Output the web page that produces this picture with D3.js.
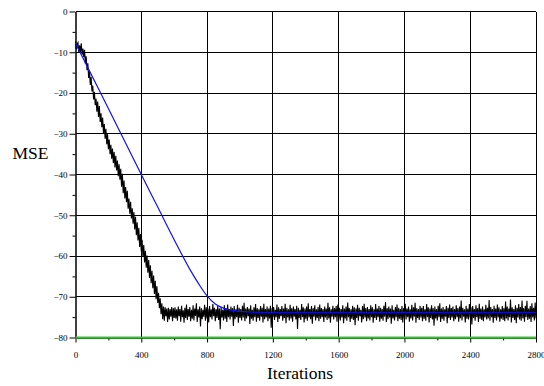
<!DOCTYPE html>
<html>
<head>
<meta charset="utf-8">
<script src="https://cdn.jsdelivr.net/npm/d3@7"></script>
<style>
body { margin: 0; background: #fff; }
text { font-family: 'Liberation Serif', 'Times New Roman', serif; fill: #000; }
</style>
</head>
<body>
<svg id="chart"></svg>
<script>
// Curvas de aprendizado: MSE (dB) x iterações

const xTicks = [0, 400, 800, 1200, 1600, 2000, 2400, 2800];
const xMinor = [200, 600, 1000, 1400, 1800, 2200, 2600];
const yTicks = [0, -10, -20, -30, -40, -50, -60, -70, -80];
const yMinor = [-5, -15, -25, -35, -45, -55, -65, -75];

// curva ruidosa (preta), uma amostra a cada 5 iterações
const noisyStep = 5;
const noisyValues = [
    -7.4, -9.3, -8.0, -7.6, -10.1, -8.3, -9.9, -7.8, -10.6, -9.1, -11.2, -9.4, -12.8, -11.0, -14.4, -12.7, -16.3, -14.6, -18.0, -16.1, -19.6,
    -18.2, -21.6, -19.7, -23.0, -21.4, -24.6, -22.1, -25.9, -23.2, -27.1, -25.0, -28.4, -26.0, -29.9, -27.6, -31.2, -28.8, -32.6, -30.1, -33.8,
    -31.4, -35.0, -32.7, -36.1, -33.6, -37.2, -34.5, -38.3, -35.4, -39.0, -36.6, -40.4, -37.5, -41.3, -38.6, -43.0, -39.8, -44.6, -41.5, -45.9,
    -43.1, -46.8, -44.0, -48.4, -45.9, -49.6, -46.7, -50.8, -48.3, -52.1, -49.2, -53.5, -50.4, -54.9, -51.7, -56.2, -53.1, -57.8, -54.6, -58.9,
    -56.0, -60.2, -57.3, -61.6, -58.7, -62.9, -59.9, -64.1, -61.0, -65.4, -62.3, -66.7, -63.6, -67.9, -64.8, -69.3, -66.1, -70.6, -67.4, -71.5,
    -69.0, -72.8, -70.4, -74.3, -71.6, -75.5, -72.4, -75.9, -72.6, -74.8, -72.9, -76.2, -72.7, -75.6, -73.0, -74.9, -72.5, -76.0, -72.8, -75.2,
    -72.6, -75.3, -73.1, -75.9, -72.4, -74.8, -73.0, -76.1, -72.2, -75.0, -73.3, -76.4, -72.7, -75.2, -71.9, -75.7, -73.0, -74.9, -72.5, -76.0,
    -73.2, -75.4, -72.1, -75.8, -72.9, -74.7, -71.6, -76.2, -73.1, -75.1, -72.4, -77.3, -72.8, -75.5, -73.2, -74.9, -72.0, -75.9, -72.6, -75.3,
    -72.9, -76.3, -72.3, -75.0, -73.1, -75.6, -71.8, -74.8, -72.7, -76.0, -73.0, -75.2, -72.2, -75.7, -72.9, -78.0, -72.5, -75.1, -73.2, -75.8,
    -72.1, -75.4, -72.8, -76.2, -71.9, -75.0, -73.0, -75.6, -72.4, -74.9, -72.8, -77.2, -72.3, -75.5, -73.1, -75.0, -72.0, -76.4, -72.7, -75.2,
    -73.0, -75.8, -72.2, -75.1, -71.5, -76.0, -72.9, -75.3, -72.5, -74.8, -72.9, -76.7, -72.1, -75.4, -73.2, -75.9, -72.6, -75.0, -71.8, -76.1,
    -72.8, -75.2, -73.1, -75.9, -72.3, -74.9, -72.7, -76.3, -71.7, -75.5, -73.0, -75.1, -72.4, -76.0, -72.9, -75.3, -72.2, -77.6, -72.8, -75.0,
    -72.5, -75.7, -73.2, -75.0, -71.9, -76.2, -72.6, -75.4, -73.0, -74.8, -72.3, -75.9, -72.9, -75.2, -71.7, -76.5, -72.7, -75.1, -73.1, -75.8,
    -72.0, -75.3, -72.8, -76.1, -72.4, -74.9, -73.0, -75.6, -72.2, -77.9, -72.7, -75.2, -73.2, -75.7, -71.8, -75.0, -72.6, -76.3, -72.9, -75.4,
    -72.4, -75.9, -71.6, -75.1, -73.0, -75.5, -72.3, -76.6, -72.8, -74.9, -72.1, -75.8, -73.1, -75.2, -72.5, -76.0, -71.9, -75.4, -72.8, -75.0,
    -73.0, -76.2, -72.4, -75.1, -72.9, -75.7, -71.5, -75.3, -72.6, -76.4, -73.1, -74.9, -72.2, -75.6, -72.8, -75.0, -72.3, -76.1, -71.9, -75.4,
    -72.7, -75.8, -73.0, -75.1, -72.1, -76.5, -72.9, -75.3, -72.4, -75.9, -71.4, -75.0, -72.8, -76.2, -73.1, -75.4, -72.2, -75.7, -72.6, -77.0,
    -72.9, -75.2, -72.0, -75.9, -72.7, -74.8, -73.2, -76.3, -72.3, -75.5, -71.7, -75.1, -72.8, -76.0, -72.5, -75.3, -73.0, -75.8, -72.1, -75.0,
    -72.6, -76.4, -73.1, -75.2, -71.8, -75.7, -72.9, -75.0, -72.3, -76.1, -72.7, -75.4, -73.0, -75.9, -72.2, -74.9, -71.3, -76.2, -72.8, -75.5,
    -72.4, -75.1, -72.9, -76.6, -72.1, -75.3, -73.2, -75.8, -72.5, -75.0, -71.9, -76.0, -72.7, -75.4, -73.0, -75.7, -72.3, -76.3, -72.8, -75.2,
    -71.7, -75.6, -72.9, -75.0, -72.4, -76.1, -73.1, -75.3, -72.0, -75.8, -72.6, -74.9, -71.5, -76.4, -72.8, -75.2, -73.0, -75.7, -72.2, -75.1,
    -72.7, -76.0, -72.3, -75.4, -73.1, -75.9, -71.8, -75.0, -72.6, -76.3, -72.9, -75.2, -72.1, -75.6, -72.8, -77.1, -72.4, -75.3, -73.0, -75.8,
    -72.2, -75.0, -71.6, -76.2, -72.9, -75.4, -72.5, -75.9, -73.1, -74.9, -72.3, -76.5, -72.7, -75.2, -71.9, -75.7, -72.8, -75.1, -72.4, -76.0,
    -73.0, -75.5, -72.1, -75.0, -72.8, -76.1, -72.4, -75.3, -70.9, -75.8, -72.7, -74.9, -73.1, -76.3, -72.2, -75.4, -72.9, -75.6, -71.8, -75.1,
    -72.6, -76.8, -72.3, -75.2, -73.0, -75.9, -72.1, -75.0, -72.8, -76.2, -71.7, -75.4, -72.9, -75.7, -72.4, -76.0, -73.1, -75.1, -72.0, -75.6,
    -72.7, -75.3, -70.8, -75.9, -72.5, -75.0, -73.0, -76.4, -72.2, -75.2, -72.9, -75.8, -71.9, -75.1, -72.6, -76.1, -73.1, -75.4, -72.3, -75.7,
    -72.8, -76.0, -71.2, -75.3, -72.4, -75.8, -72.9, -75.0, -70.7, -76.3, -72.6, -75.2, -73.0, -75.7, -72.1, -76.5, -72.7, -75.1, -71.8, -75.6,
    -72.5, -75.9, -70.9, -75.3, -72.8, -76.1, -72.2, -75.0, -71.0, -75.7, -72.9, -75.4, -72.3, -76.2, -71.6, -75.1, -72.7, -75.8, -71.4, -75.3
];

// curva teórica (azul)
const theoryIter = [0, 100, 200, 300, 400, 500, 600, 700, 750, 800, 850, 900, 950, 1000, 1100, 1400, 2800];
const theoryValues = [-7.8, -15.8, -23.8, -31.9, -40, -48, -56, -63.6, -66.9, -69.8, -71.8, -72.8, -73.3, -73.6, -73.8, -73.8, -73.8];

// limite inferior (verde)
const floorIter = [0, 2800];
const floorValues = [-80, -80];

const width = 544;
const height = 386;
const margin = {left: 75.5, right: 8, top: 11.5, bottom: 48.5};
const serif = "'Liberation Serif', 'Times New Roman', serif";

const svg = d3.select('#chart')
    .attr('width', width)
    .attr('height', height);

const x = d3.scaleLinear().domain([0, 2800]).range([margin.left, width - margin.right]);
const y = d3.scaleLinear().domain([-80, 0]).range([height - margin.bottom, margin.top]);

// Grade

const grid = svg.append('g').attr('class', 'grid')
    .attr('stroke', '#000')
    .attr('stroke-width', 1)
    .attr('shape-rendering', 'crispEdges');

grid.selectAll('line.v')
    .data(xTicks.slice(1))
    .enter()
    .append('line')
    .attr('class', 'v')
    .attr('x1', (d) => x(d)).attr('x2', (d) => x(d))
    .attr('y1', y(0)).attr('y2', y(-80));

grid.selectAll('line.h')
    .data(yTicks.slice(0, -1))
    .enter()
    .append('line')
    .attr('class', 'h')
    .attr('x1', x(0)).attr('x2', x(2800))
    .attr('y1', (d) => y(d)).attr('y2', (d) => y(d));

// Eixos

const fmt = d3.format('d');

svg.append('g')
    .attr('transform', `translate(${ x(0) },0)`)
    .call(d3.axisLeft(y).tickValues(yTicks).tickSize(6).tickSizeOuter(0).tickPadding(2).tickFormat(fmt));

svg.append('g')
    .attr('transform', `translate(${ x(0) },0)`)
    .call(d3.axisLeft(y).tickValues(yMinor).tickSize(3).tickSizeOuter(0).tickFormat(''))
    .select('.domain').remove();

svg.append('g')
    .attr('transform', `translate(0,${ y(-80) })`)
    .call(d3.axisBottom(x).tickValues(xTicks).tickSize(5).tickSizeOuter(0).tickPadding(9).tickFormat(fmt));

svg.append('g')
    .attr('transform', `translate(0,${ y(-80) })`)
    .call(d3.axisBottom(x).tickValues(xMinor).tickSize(3).tickSizeOuter(0).tickFormat(''))
    .select('.domain').remove();

svg.selectAll('.tick text')
    .attr('font-family', serif)
    .style('font-family', serif)
    .style('font-size', '9px');

svg.selectAll('.domain').attr('stroke-width', 1.5);

// Curvas

const noisyLine = d3.line()
    .x((d, i) => x(i * noisyStep))
    .y((d) => y(d));

svg.append('path')
    .datum(noisyValues)
    .attr('fill', 'none')
    .attr('stroke', '#000')
    .attr('stroke-width', 1.1)
    .attr('d', noisyLine);

const theoryLine = d3.line()
    .x((d, i) => x(theoryIter[i]))
    .y((d) => y(d))
    .curve(d3.curveMonotoneX);

svg.append('path')
    .datum(theoryValues)
    .attr('fill', 'none')
    .attr('stroke', '#1010ff')
    .attr('stroke-width', 1.2)
    .attr('d', theoryLine);

const floorLine = d3.line()
    .x((d, i) => x(floorIter[i]))
    .y((d) => y(d));

svg.append('path')
    .datum(floorValues)
    .attr('fill', 'none')
    .attr('stroke', '#2ec82e')
    .attr('stroke-width', 1.8)
    .attr('d', floorLine);

// Rótulos

svg.append('text')
    .attr('x', 12.5)
    .attr('y', 159)
    .style('font-size', '17.5px')
    .text('MSE');

svg.append('text')
    .attr('x', 300)
    .attr('y', 379)
    .attr('text-anchor', 'middle')
    .style('font-size', '17.5px')
    .text('Iterations');
</script>
</body>
</html>
